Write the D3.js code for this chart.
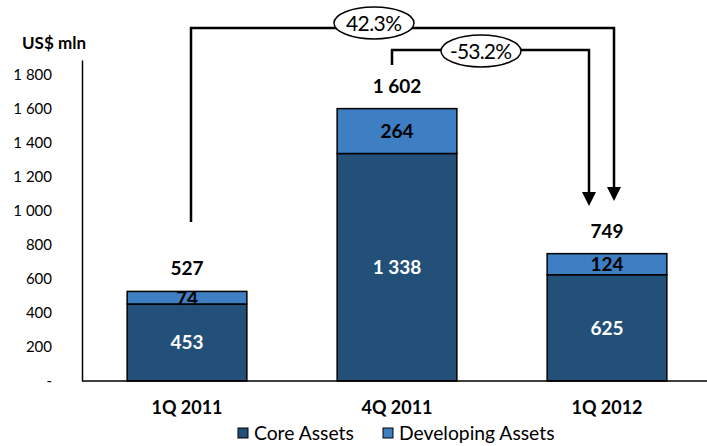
<!DOCTYPE html>
<html>
<head>
<meta charset="utf-8">
<script src="https://cdn.jsdelivr.net/npm/d3@7"></script>
<style>
  body { margin: 0; background: #fff; }
  svg { font-family: Lato, "Open Sans", sans-serif; }
</style>
</head>
<body>
<div id="chart"><svg></svg></div>
<script>
const categories = ["1Q 2011", "4Q 2011", "1Q 2012"];
const coreAssets = [453, 1338, 625];
const developingAssets = [74, 264, 124];
const totals = [527, 1602, 749];
const yTicks = [0, 200, 400, 600, 800, 1000, 1200, 1400, 1600, 1800];
const seriesNames = ["Core Assets", "Developing Assets"];
const colors = ["#235079", "#3d7fc2"];
// growth brackets: from bar -> to bar, label
const changes = [
  { from: 0, to: 2, label: "42.3%" },
  { from: 1, to: 2, label: "-53.2%" }
];

const width = 707, height = 446;
const margin = { top: 60, right: 0, bottom: 65, left: 82 };

const svg = d3.select("#chart > svg").attr("width", width).attr("height", height);

const fmt = d3.formatLocale({ decimal: ".", thousands: " ", grouping: [3], currency: ["", ""] }).format(",d");

const x = d3.scaleBand()
  .domain(categories)
  .range([margin.left, margin.left + 630])
  .paddingInner(0.43)
  .paddingOuter(0.215);

const y = d3.scaleLinear()
  .domain([0, 1888])
  .range([height - margin.bottom, margin.top]);

const rows = categories.map((c, i) => ({ cat: c, core: coreAssets[i], dev: developingAssets[i], total: totals[i] }));
const stack = d3.stack().keys(["core", "dev"])(rows);

// y axis
const yAxis = svg.append("g")
  .attr("transform", `translate(${margin.left},0)`)
  .call(d3.axisLeft(y).tickValues(yTicks).tickSize(0).tickPadding(30)
    .tickFormat(d => d === 0 ? "-" : fmt(d)));
yAxis.select(".domain").attr("stroke", "#000").attr("stroke-width", 1.5);
yAxis.selectAll("text").attr("font-size", 15).attr("fill", "#000").attr("font-family", "Lato, sans-serif");

// bars
stack.forEach((layer, li) => {
  svg.append("g").selectAll("rect")
    .data(layer)
    .join("rect")
    .attr("x", d => x(d.data.cat))
    .attr("width", x.bandwidth())
    .attr("y", d => y(d[1]))
    .attr("height", d => y(d[0]) - y(d[1]))
    .attr("fill", colors[li])
    .attr("stroke", "#000")
    .attr("stroke-width", 1.5);
});

// x axis line
svg.append("line")
  .attr("x1", margin.left).attr("x2", width)
  .attr("y1", y(0)).attr("y2", y(0))
  .attr("stroke", "#000").attr("stroke-width", 1.5);

// category labels
svg.append("g").selectAll("text")
  .data(categories)
  .join("text")
  .attr("x", d => x(d) + x.bandwidth() / 2)
  .attr("y", y(0) + 33)
  .attr("text-anchor", "middle")
  .attr("font-size", 18)
  .attr("font-weight", "bold")
  .text(d => d);

// segment labels
const labels = svg.append("g").attr("font-weight", "bold").attr("font-size", 19).attr("text-anchor", "middle");
stack.forEach((layer, li) => {
  labels.selectAll(null)
    .data(layer)
    .join("text")
    .attr("x", d => x(d.data.cat) + x.bandwidth() / 2)
    .attr("y", d => (y(d[0]) + y(d[1])) / 2 + 7)
    .attr("fill", li === 0 ? "#fff" : "#000")
    .text(d => fmt(d[1] - d[0]));
});

// totals
labels.selectAll(null)
  .data(rows)
  .join("text")
  .attr("x", d => x(d.cat) + x.bandwidth() / 2)
  .attr("y", d => y(d.total) - 16)
  .attr("fill", "#000")
  .text(d => fmt(d.total));

// unit label
svg.append("text")
  .attr("x", 22).attr("y", 49)
  .attr("font-size", 17).attr("font-weight", "bold")
  .text("US$ mln");

const brackets = [
  { xs: 191, ys: 222, top: 28, xe: 614, ye: 201, cx: 374, cy: 23 },
  { xs: 392, ys: 65, top: 50, xe: 589, ye: 206, cx: 481, cy: 51 }
];
changes.forEach((c, i) => {
  const b = brackets[i];
  svg.append("path")
    .attr("d", `M${b.xs},${b.ys} V${b.top} H${b.xe} V${b.ye - 12}`)
    .attr("fill", "none")
    .attr("stroke", "#000")
    .attr("stroke-width", 2.5);
  svg.append("path")
    .attr("d", `M${b.xe - 7},${b.ye - 14} L${b.xe + 7},${b.ye - 14} L${b.xe},${b.ye} Z`)
    .attr("fill", "#000");
  svg.append("ellipse")
    .attr("cx", b.cx).attr("cy", b.cy)
    .attr("rx", 40).attr("ry", 16)
    .attr("fill", "#fff").attr("stroke", "#000").attr("stroke-width", 1.5);
  svg.append("text")
    .attr("x", b.cx).attr("y", b.cy + 7.5)
    .attr("text-anchor", "middle")
    .attr("font-size", 21)
    .attr("textLength", c.label.length > 5 ? 62 : 56)
    .text(c.label);
});

// legend
const legendX = [238, 383];
const legend = svg.append("g");
seriesNames.forEach((name, i) => {
  legend.append("rect")
    .attr("x", legendX[i]).attr("y", 428)
    .attr("width", 10).attr("height", 10)
    .attr("fill", colors[i]).attr("stroke", "#000").attr("stroke-width", 1);
  legend.append("text")
    .attr("x", legendX[i] + 16).attr("y", 440)
    .attr("font-size", 19.3)
    .text(name);
});
</script>
</body>
</html>
